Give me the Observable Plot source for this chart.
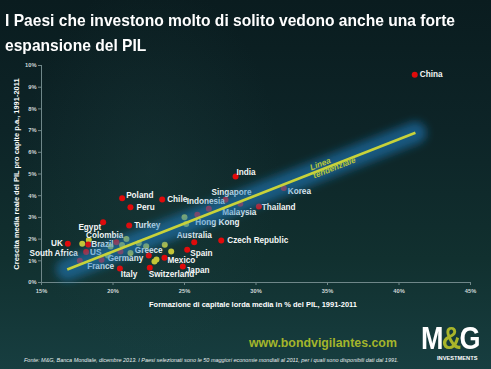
<!DOCTYPE html>
<html>
<head>
<meta charset="utf-8">
<script src="https://cdn.jsdelivr.net/npm/d3@7"></script>
<script src="https://cdn.jsdelivr.net/npm/@observablehq/plot@0.6"></script>
<style>
  html, body { margin: 0; padding: 0; }
  body { width: 491px; height: 369px; overflow: hidden; }
  #card {
    position: relative; width: 491px; height: 369px; overflow: hidden;
    background:
      radial-gradient(ellipse 130px 190px at 150px 170px, rgba(40,80,80,0.22), rgba(40,80,80,0) 100%),
      linear-gradient(to bottom, #0a1c1f 0%, #0d2427 35%, #11302f 70%, #173e40 100%);
    font-family: "Liberation Sans", Arial, sans-serif;
  }
  #title {
    position: absolute; left: 5px; top: 8px; width: 486px; white-space: nowrap;
    color: #ffffff; font-weight: bold; line-height: 25px; font-size: 16.3px;
  }
  #title span { display: inline-block; transform-origin: 0 50%; }
  #chart { position: absolute; left: 0; top: 55px; }
  #www {
    position: absolute; left: 249px; line-height: 1; white-space: nowrap;
    font-weight: bold; color: #a4b52b;
  }
  #note {
    position: absolute; left: 24px; line-height: 1; white-space: nowrap;
    font-style: italic; color: #e8eeee;
  }
  #logo {
    position: absolute; left: 421px; top: 322.8px; white-space: nowrap;
    color: #ffffff; font-weight: bold; font-size: 31px; line-height: 1; letter-spacing: -2px;
    transform: scaleX(0.87); transform-origin: 0 50%;
  }
  #logo .amp { color: #a9b52a; }
  #inv {
    position: absolute; left: 437px; line-height: 1; white-space: nowrap;
    font-weight: bold; color: #ffffff;
  }
</style>
</head>
<body>
<div id="card">
  <div id="title"><span id="t1">I Paesi che investono molto di solito vedono anche una forte</span><br><span id="t2">espansione del PIL</span></div>
  <div id="chart"></div>
  <div id="www">www.bondvigilantes.com</div>
  <div id="logo">M<span class="amp">&amp;</span>G</div>
  <div id="inv">INVESTMENTS</div>
  <div id="note">Fonte: M&amp;G, Banca Mondiale, dicembre 2013. I Paesi selezionati sono le 50 maggiori economie mondiali al 2011, per i quali sono disponibili dati dal 1991.</div>
</div>
<script>
// ---- Data ----
const countries = ["China","India","Korea","Thailand","Singapore","Malaysia","Indonesia","Hong Kong","Chile","Poland","Peru","Egypt","Turkey","Colombia","UK","Brazil","South Africa","US","France","Germany","Italy","Switzerland","Greece","Mexico","Spain","Japan","Australia","Czech Republic"];
const investment = [41.1,28.57,31.94,30.2,27.87,28.9,26.7,25.9,23.44,20.64,21.22,19.31,21.13,20.24,16.84,18.27,17.68,18.12,19.2,20.52,20.48,22.57,22.5,23.6,25.19,24.88,25.68,27.57];
const growth = [9.57,4.88,4.35,3.5,3.81,3.63,3.4,3.12,3.82,3.88,3.47,2.78,2.63,1.86,1.78,1.75,1.0,1.4,1.05,1.43,0.645,0.68,1.24,1.14,1.51,0.74,1.86,1.94];

// unlabeled countries (yellow dots)
const otherInvestment = [17.85,18.31,19.64,19.83,20.63,20.94,21.22,21.8,22.32,23.62,24.07,22.9,23.04,25.0,25.12];
const otherGrowth = [1.78,1.96,1.24,1.66,1.73,2.01,1.36,1.81,1.67,1.74,1.43,0.97,1.06,3.01,2.7];

// trend line end points
const trendX = [16.8, 41.15];
const trendY = [0.6, 6.9];
const trendText = "Linea\ntendenziale";
const trendLabelX = 33.9;
const trendLabelY = 5.1;

const xTicks = [15,20,25,30,35,40,45];
const yTicks = [0,1,2,3,4,5,6,7,8,9,10];
const xLabel = "Formazione di capitale lorda media in % del PIL, 1991-2011";
const yLabel = "Crescita media reale del PIL pro capite p.a., 1991-2011";

// label placement: [text-anchor, dx, dy]
const labelPlacement = {
  "China": ["start", 5, 0], "India": ["start", 1, -4], "Korea": ["start", 4, 3],
  "Thailand": ["start", 3, 1], "Singapore": ["middle", 6, -7], "Malaysia": ["middle", -1, 9],
  "Indonesia": ["middle", -3, -7], "Hong Kong": ["start", -2, 8], "Chile": ["start", 5, 0],
  "Poland": ["start", 4, -3], "Peru": ["start", 6, 0], "Egypt": ["end", -2, 5],
  "Turkey": ["start", 5, 0], "Colombia": ["end", 7, -7], "UK": ["end", -5, 0],
  "Brazil": ["start", 3, 0], "South Africa": ["end", -2, -7.5], "US": ["start", 4, 0],
  "France": ["middle", -1, 7], "Germany": ["middle", 5, 7], "Italy": ["start", 1, 6],
  "Switzerland": ["start", -1, 7], "Greece": ["middle", 0, -5], "Mexico": ["start", 3, 3],
  "Spain": ["start", 3, 4], "Japan": ["start", 3, 4], "Australia": ["middle", 0, -7],
  "Czech Republic": ["start", 6, 0]
};

// ---- font fitting: measure widths so texts match the reference ----
const FAMILY = '"Liberation Sans", Arial, sans-serif';
const ctx = document.createElement("canvas").getContext("2d");
function measure(text, size, weight = "bold", style = "normal") {
  ctx.font = `${style} ${weight} ${size}px ${FAMILY}`;
  return ctx.measureText(text).width;
}
function fit(text, target, weight = "bold", style = "normal") {
  return 100 * target / measure(text, 100, weight, style);
}
// title: keep tall letters, condense horizontally
const titleScale = 450 / measure("I Paesi che investono molto di solito vedono anche una forte", 16.3);
document.getElementById("t1").style.transform = `scaleX(${titleScale})`;
document.getElementById("t2").style.transform = `scaleX(${titleScale})`;

const LABEL_FONT = 8.2;
const labelScale = 50 / measure("Czech Republic", LABEL_FONT);
const tickSize = fit("45%", 11.4);
const axisLabelSize = fit(xLabel, 208);
const trendSize = fit("tendenziale", 45, "bold", "italic");
const wwwSize = fit("www.bondvigilantes.com", 148);
const noteSize = fit(document.getElementById("note").textContent, 375, "normal", "italic");
const invSize = fit("INVESTMENTS", 40.6);

const www = document.getElementById("www");
www.style.fontSize = wwwSize + "px"; www.style.top = (347 - 0.8465 * wwwSize) + "px";
const note = document.getElementById("note");
note.style.fontSize = noteSize + "px"; note.style.top = (362.8 - 0.8465 * noteSize) + "px";
const inv = document.getElementById("inv");
inv.style.fontSize = invSize + "px"; inv.style.top = (360.8 - 0.8465 * invSize) + "px";

const labeled = countries.map((c, i) => ({name: c, x: investment[i], y: growth[i]}));
const others = otherInvestment.map((x, i) => ({x, y: otherGrowth[i]}));
const trend = trendX.map((x, i) => ({x, y: trendY[i]}));

const labelMarks = labeled.map(d => {
  const [anchor, dx, dy] = labelPlacement[d.name];
  return Plot.text([d], {x: "x", y: "y", text: "name", textAnchor: anchor, dx, dy, ariaLabel: "country-label",
    fill: "#f4f6f6", fontSize: LABEL_FONT, fontWeight: "bold"});
});

const plot = Plot.plot({
  width: 491, height: 260,
  marginTop: 10, marginBottom: 33, marginLeft: 41, marginRight: 21,
  style: {background: "transparent", color: "#cfd8d8", fontFamily: FAMILY, fontWeight: "bold", overflow: "visible"},
  x: {domain: [15, 45]},
  y: {domain: [0, 10]},
  marks: [
    Plot.axisX({ticks: xTicks, tickFormat: d => d + "%", tickSize: 3, tickPadding: 3, fontSize: tickSize, stroke: "#6f8789", label: null}),
    Plot.axisY({ticks: yTicks, tickFormat: d => d + "%", tickSize: 3, tickPadding: 2, fontSize: tickSize, stroke: "#6f8789", label: null}),
    Plot.text([xLabel], {frameAnchor: "bottom", dx: -3, dy: 22, text: d => d, fill: "#ffffff", fontSize: axisLabelSize, fontWeight: "bold", lineAnchor: "middle", textAnchor: "middle"}),
    Plot.text([yLabel], {frameAnchor: "left", dx: -25, text: d => d, rotate: -90, fill: "#ffffff", fontSize: axisLabelSize, fontWeight: "bold", lineAnchor: "middle", textAnchor: "middle"}),
    Plot.ruleX([15], {stroke: "#6f8789", strokeWidth: 1}),
    Plot.ruleY([0], {stroke: "#6f8789", strokeWidth: 1}),
    Plot.dot(others, {x: "x", y: "y", r: 3, fill: "#c4c637", stroke: "none"}),
    Plot.dot(labeled, {x: "x", y: "y", r: 3, fill: "#e00b0b", stroke: "none"}),
    ...labelMarks,
    Plot.line(trend, {x: "x", y: "y", stroke: "#1c7cc0", strokeWidth: 22, strokeOpacity: 0.58, strokeLinecap: "round"}),
    Plot.line(trend, {x: "x", y: "y", stroke: "#c8d23a", strokeWidth: 2.6, strokeLinecap: "butt"}),
    Plot.text([{x: trendLabelX, y: trendLabelY, t: trendText}], {x: "x", y: "y", text: "t", rotate: -21.4,
      textAnchor: "start", lineAnchor: "middle", fill: "#b8c73a", fontSize: trendSize, fontWeight: "bold", fontStyle: "italic", lineHeight: 1.05})
  ]
});

// condense country labels horizontally around their anchor points
plot.querySelectorAll('g[aria-label="country-label"] text').forEach(t => {
  const x = +t.getAttribute("x") || 0, y = +t.getAttribute("y") || 0;
  const prev = t.getAttribute("transform") || "";
  t.setAttribute("transform", `${prev} translate(${x},${y}) scale(${labelScale},1) translate(${-x},${-y})`);
});

// soft glow: blur the wide blue line
const ns = "http://www.w3.org/2000/svg";
const defs = document.createElementNS(ns, "defs");
const filter = document.createElementNS(ns, "filter");
filter.setAttribute("id", "glow");
filter.setAttribute("x", "-20%"); filter.setAttribute("y", "-50%");
filter.setAttribute("width", "140%"); filter.setAttribute("height", "200%");
const blur = document.createElementNS(ns, "feGaussianBlur");
blur.setAttribute("stdDeviation", "4");
filter.appendChild(blur);
defs.appendChild(filter);
plot.insertBefore(defs, plot.firstChild);
const lines = plot.querySelectorAll('g[aria-label="line"]');
if (lines.length) lines[0].setAttribute("filter", "url(#glow)");

document.getElementById("chart").appendChild(plot);
</script>
</body>
</html>
